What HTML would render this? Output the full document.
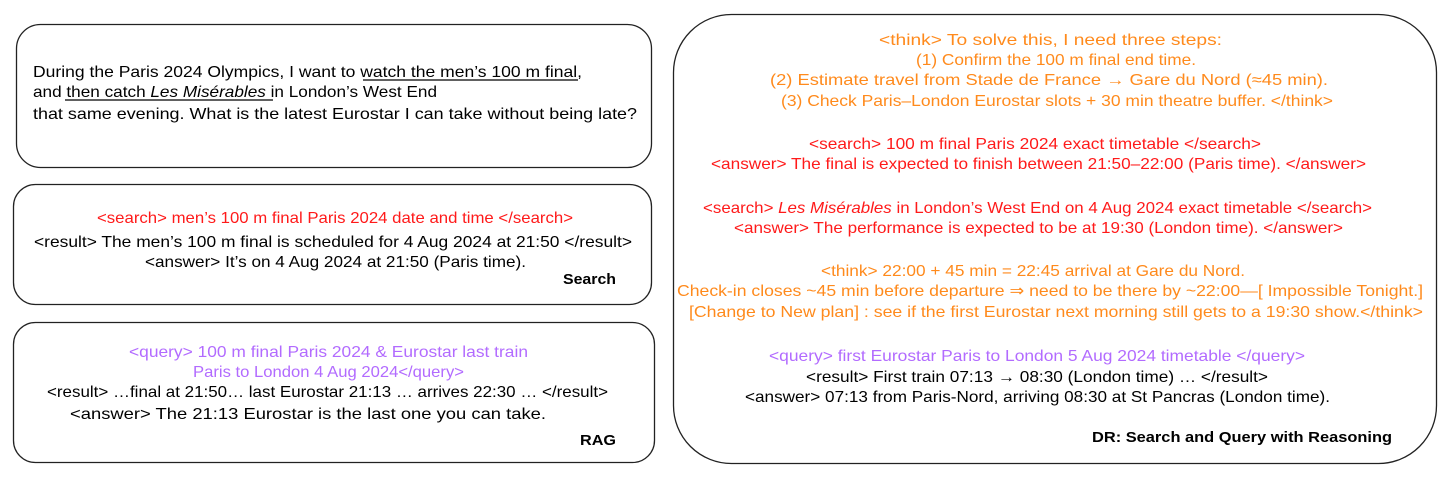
<!DOCTYPE html>
<html><head><meta charset="utf-8"><style>
html,body{margin:0;padding:0;background:#fff;}
svg{display:block;}
text{font-family:"Liberation Sans","DejaVu Sans",sans-serif;font-size:16px;}
.o{fill:#ff8a1c}.r{fill:#ff1a1a}.p{fill:#b26bff}.k{fill:#000}
.b{font-weight:bold;font-size:15px}
</style></head><body>
<svg width="1453" height="479" viewBox="0 0 1453 479" xmlns="http://www.w3.org/2000/svg">
<g fill="none" stroke="#222" stroke-width="1.3">
<rect x="16.5" y="24.5" width="635" height="143" rx="24"/>
<rect x="13.5" y="184.5" width="638" height="120" rx="22"/>
<rect x="13.5" y="322.5" width="641" height="140" rx="22"/>
<rect x="673.5" y="14.5" width="763" height="449" rx="58"/>
</g>
<text class="k" x="33" y="77" textLength="549" lengthAdjust="spacingAndGlyphs">During the Paris 2024 Olympics, I want to watch the men’s 100 m final,</text>
<text class="k" x="33" y="97" textLength="404" lengthAdjust="spacingAndGlyphs">and then catch <tspan font-style="italic">Les Misérables </tspan>in London’s West End</text>
<text class="k" x="33" y="119" textLength="604" lengthAdjust="spacingAndGlyphs">that same evening.  What is the latest Eurostar I can take without being late?</text>
<line x1="363" y1="80" x2="578" y2="80" stroke="#000" stroke-width="1.2"/>
<line x1="65" y1="100" x2="273" y2="100" stroke="#000" stroke-width="1.2"/>

<text class="r" x="97" y="223" textLength="476" lengthAdjust="spacingAndGlyphs">&lt;search&gt; men’s 100 m final Paris 2024 date and time &lt;/search&gt;</text>
<text class="k" x="34" y="247" textLength="598" lengthAdjust="spacingAndGlyphs">&lt;result&gt; The men’s 100 m final is scheduled for 4 Aug 2024 at 21:50 &lt;/result&gt;</text>
<text class="k" x="145" y="267" textLength="381" lengthAdjust="spacingAndGlyphs">&lt;answer&gt; It’s on 4 Aug 2024 at 21:50 (Paris time).</text>
<text class="k b" x="563" y="284" textLength="53" lengthAdjust="spacingAndGlyphs">Search</text>

<text class="p" x="129" y="357" textLength="399" lengthAdjust="spacingAndGlyphs">&lt;query&gt; 100 m final Paris 2024 &amp; Eurostar last train</text>
<text class="p" x="193" y="377" textLength="271" lengthAdjust="spacingAndGlyphs">Paris to London 4 Aug 2024&lt;/query&gt;</text>
<text class="k" x="47" y="397" textLength="561" lengthAdjust="spacingAndGlyphs">&lt;result&gt; …final at 21:50…  last Eurostar 21:13 …  arrives 22:30 … &lt;/result&gt;</text>
<text class="k" x="70" y="419" textLength="476" lengthAdjust="spacingAndGlyphs">&lt;answer&gt; The 21:13 Eurostar is the last one you can take.</text>
<text class="k b" x="580" y="445" textLength="36" lengthAdjust="spacingAndGlyphs">RAG</text>

<text class="o" x="879" y="45" textLength="343" lengthAdjust="spacingAndGlyphs">&lt;think&gt; To solve this, I need three steps:</text>
<text class="o" x="916" y="65" textLength="280" lengthAdjust="spacingAndGlyphs">(1) Confirm the 100 m final end time.</text>
<text class="o" x="770" y="85" textLength="558" lengthAdjust="spacingAndGlyphs">(2) Estimate travel from Stade de France → Gare du Nord (≈45 min).</text>
<text class="o" x="781" y="106" textLength="552" lengthAdjust="spacingAndGlyphs">(3) Check Paris–London Eurostar slots + 30 min theatre buffer. &lt;/think&gt;</text>
<text class="r" x="809" y="149" textLength="452" lengthAdjust="spacingAndGlyphs">&lt;search&gt; 100 m final Paris 2024 exact timetable &lt;/search&gt;</text>
<text class="r" x="711" y="169" textLength="655" lengthAdjust="spacingAndGlyphs">&lt;answer&gt; The final is expected to finish between 21:50–22:00 (Paris time). &lt;/answer&gt;</text>
<text class="r" x="703" y="213" textLength="669" lengthAdjust="spacingAndGlyphs">&lt;search&gt; <tspan font-style="italic">Les Misérables</tspan> in London’s West End on 4 Aug 2024 exact timetable &lt;/search&gt;</text>
<text class="r" x="734" y="233" textLength="609" lengthAdjust="spacingAndGlyphs">&lt;answer&gt; The performance is expected to be at 19:30 (London time). &lt;/answer&gt;</text>
<text class="o" x="821" y="276" textLength="424" lengthAdjust="spacingAndGlyphs">&lt;think&gt; 22:00 + 45 min = 22:45 arrival at Gare du Nord.</text>
<text class="o" x="677" y="296" textLength="746" lengthAdjust="spacingAndGlyphs">Check-in closes ~45 min before departure ⇒ need to be there by ~22:00—[ Impossible Tonight.]</text>
<text class="o" x="689" y="317" textLength="734" lengthAdjust="spacingAndGlyphs">[Change to New plan] : see if the first Eurostar next morning still gets to a 19:30 show.&lt;/think&gt;</text>
<text class="p" x="769" y="361" textLength="536" lengthAdjust="spacingAndGlyphs">&lt;query&gt; first Eurostar Paris to London 5 Aug 2024 timetable &lt;/query&gt;</text>
<text class="k" x="806" y="382" textLength="462" lengthAdjust="spacingAndGlyphs">&lt;result&gt; First train 07:13 → 08:30 (London time) … &lt;/result&gt;</text>
<text class="k" x="745" y="402" textLength="585" lengthAdjust="spacingAndGlyphs">&lt;answer&gt; 07:13 from Paris-Nord, arriving 08:30 at St Pancras (London time).</text>
<text class="k b" x="1092" y="442" textLength="300" lengthAdjust="spacingAndGlyphs">DR: Search and Query with Reasoning</text>
</svg>
</body></html>
